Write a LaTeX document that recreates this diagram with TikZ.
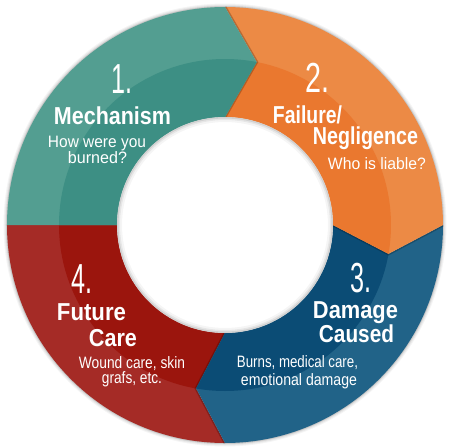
\documentclass[tikz,border=0pt]{standalone}
\usepackage{fontspec}
\usepackage{graphicx}
\setmainfont{Liberation Sans}
\definecolor{tealL}{HTML}{539E91}
\definecolor{tealD}{HTML}{3D8F84}
\definecolor{orangeL}{HTML}{EC8A45}
\definecolor{orangeD}{HTML}{EA782F}
\definecolor{blueL}{HTML}{216388}
\definecolor{blueD}{HTML}{0B4C75}
\definecolor{redL}{HTML}{A52B26}
\definecolor{redD}{HTML}{9B150D}
\newlength\fitlen
\newcommand\fitw[2]{\settowidth\fitlen{#2}\scalebox{\fpeval{(#1pt)/(\fitlen)}}[1]{#2}}
\tikzset{
  numtxt/.style={inner sep=0pt, anchor=base, text=white, font=\fontsize{42}{42}\selectfont},
  headtxt/.style={inner sep=0pt, anchor=base, text=white, font=\fontsize{24.5}{24.5}\selectfont\bfseries},
  subtxt/.style={inner sep=0pt, anchor=base, text=white, font=\fontsize{16.5}{16.5}\selectfont},
  headshadow/.style={line width=3pt, black, opacity=0.22, line join=miter}
}
\begin{document}
\begin{tikzpicture}[x=1pt,y=1pt]
\useasboundingbox (-225,-223) rectangle (226,225);
\def\Ro{218}
\def\Rm{166}
\def\Ri{108}
% outer halo
\foreach \w/\o in {7/0.04,5/0.05,3/0.07,1.5/0.1}{
  \draw[line width=\w pt, black, opacity=\o] (0,0) circle (\Ro);
}
% segment 4 (red)
\begin{scope}
  \clip (270:\Ro) arc[start angle=270, end angle=180, radius=\Ro] -- (180:\Ri)
        arc[start angle=180, end angle=270, radius=\Ri] -- (260:\Rm) -- cycle;
  \fill[redL] (0,0) circle (\Ro+2);
  \fill[redD] (0,0) circle (\Rm);
\end{scope}
\draw[headshadow] (270:\Ro) -- (260:\Rm) -- (270:\Ri);
% segment 3 (blue)
\begin{scope}
  \clip (0:\Ro) arc[start angle=0, end angle=-90, radius=\Ro] -- (260:\Rm) -- (270:\Ri)
        arc[start angle=-90, end angle=0, radius=\Ri] -- (-10:\Rm) -- cycle;
  \fill[blueL] (0,0) circle (\Ro+2);
  \fill[blueD] (0,0) circle (\Rm);
\end{scope}
\draw[headshadow] (0:\Ro) -- (-10:\Rm) -- (0:\Ri);
% segment 2 (orange)
\begin{scope}
  \clip (90:\Ro) arc[start angle=90, end angle=0, radius=\Ro] -- (-10:\Rm) -- (0:\Ri)
        arc[start angle=0, end angle=90, radius=\Ri] -- (79:\Rm) -- cycle;
  \fill[orangeL] (0,0) circle (\Ro+2);
  \fill[orangeD] (0,0) circle (\Rm);
\end{scope}
\draw[headshadow] (90:\Ro) -- (79:\Rm) -- (90:\Ri);
% segment 1 (teal)
\begin{scope}
  \clip (180:\Ro) arc[start angle=180, end angle=90, radius=\Ro] -- (79:\Rm) -- (90:\Ri)
        arc[start angle=90, end angle=180, radius=\Ri] -- cycle;
  \fill[tealL] (0,0) circle (\Ro+2);
  \fill[tealD] (0,0) circle (\Rm);
\end{scope}
% inner hole
\fill[white] (0,0) circle (\Ri);
\foreach \w/\o in {5/0.04,3/0.06,1.5/0.09}{
  \draw[line width=\w pt, black, opacity=\o] (0,0) circle (\Ri-\w/2);
}
% texts segment 1
\node[numtxt]  (n1)  at (-103,132)  {\fitw{21}{1.}};
\node[headtxt] (h1a) at (-112.5,101) {\fitw{117}{Mechanism}};
\node[subtxt]  (s1a) at (-128,78)   {\fitw{98}{How were you}};
\node[subtxt]  (s1b) at (-127.5,62) {\fitw{59}{burned?}};
% segment 2
\node[numtxt]  (n2)  at (93,133)    {\fitw{24}{2.}};
\node[headtxt] (h2a) at (82.5,102)  {\fitw{69}{Failure/}};
\node[headtxt] (h2b) at (140.5,81)  {\fitw{105}{Negligence}};
\node[subtxt]  (s2a) at (152,56)    {\fitw{98}{Who is liable?}};
% segment 3
\node[numtxt]  (n3)  at (136.5,-67) {\fitw{21}{3.}};
\node[headtxt] (h3a) at (130.5,-93) {\fitw{85}{Damage}};
\node[headtxt] (h3b) at (131.5,-117) {\fitw{75}{Caused}};
\node[subtxt]  (s3a) at (72.5,-142) {\fitw{121}{Burns, medical care,}};
\node[subtxt]  (s3b) at (74,-160)   {\fitw{116}{emotional damage}};
% segment 4
\node[numtxt]  (n4)  at (-142.5,-68) {\fitw{21}{4.}};
\node[headtxt] (h4a) at (-133.5,-95) {\fitw{69}{Future}};
\node[headtxt] (h4b) at (-112,-121)  {\fitw{48}{Care}};
\node[subtxt]  (s4a) at (-93,-143)   {\fitw{106}{Wound care, skin}};
\node[subtxt]  (s4b) at (-93,-158)   {\fitw{60}{grafs, etc.}};
\end{tikzpicture}
\end{document}
